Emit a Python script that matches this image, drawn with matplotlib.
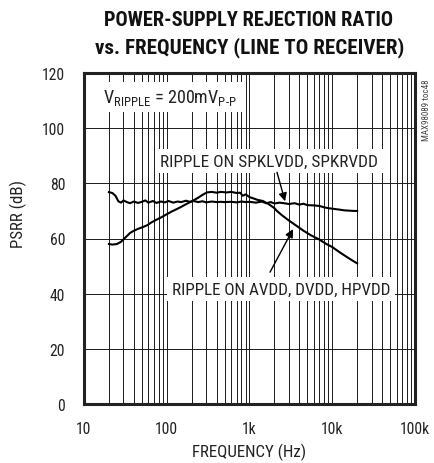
"""PSRR vs. frequency, line input to receiver output."""

import matplotlib
matplotlib.use("Agg")
import matplotlib.pyplot as plt
from matplotlib import font_manager as fm
from matplotlib.ticker import FixedLocator, LogLocator, NullFormatter

# ripple on SPKLVDD / SPKRVDD
spk_freq = [20, 22, 24, 26, 28, 30, 33, 36, 40, 45, 50, 55, 60, 68, 75, 85,
            95, 105, 120, 135, 150, 170, 190, 210, 240, 270, 300, 350, 400,
            450, 500, 600, 700, 800, 900, 1000, 1200, 1400, 1600, 1800, 2000,
            2300, 2600, 3000, 3500, 4000, 4500, 5000, 6000, 7000, 8000, 9000,
            10000, 12000, 14000, 16000, 18000, 20000]
spk_db = [76.8, 76.5, 75.5, 73.5, 73.0, 73.8, 73.2, 72.8, 73.4, 72.9, 73.3,
          73.8, 73.0, 73.6, 72.9, 73.4, 73.1, 73.6, 73.0, 73.4, 73.2, 73.7,
          73.3, 73.6, 73.2, 73.5, 73.1, 73.4, 73.2, 73.3, 73.2, 73.3, 73.1,
          73.4, 73.2, 73.3, 73.0, 73.4, 72.8, 73.2, 72.7, 73.0, 72.8, 72.5,
          72.8, 72.3, 72.6, 72.1, 72.0, 71.8, 71.3, 71.0, 70.8, 70.5, 70.2,
          70.1, 70.0, 70.0]

# ripple on AVDD / DVDD / HPVDD
av_freq = [20, 22, 25, 28, 32, 36, 40, 45, 50, 58, 65, 75, 85, 100, 115, 133,
           150, 175, 207, 240, 270, 305, 350, 400, 450, 530, 600, 700, 770,
           830, 900, 1000, 1100, 1250, 1450, 1700, 2000, 2140, 2500, 3000,
           3700, 4500, 5500, 7000, 8500, 10000, 12300, 15000, 18000, 20000]
av_db = [58.0, 57.8, 58.0, 58.8, 60.5, 62.0, 62.8, 63.5, 64.0, 64.8, 65.8,
         66.8, 67.6, 68.8, 69.8, 70.7, 71.5, 72.6, 73.7, 74.8, 75.8, 76.7,
         76.9, 76.6, 76.9, 76.7, 76.9, 76.5, 76.6, 75.5, 76.0, 75.0, 74.6,
         74.0, 73.6, 72.5, 71.0, 70.0, 68.3, 66.5, 64.6, 62.8, 61.2, 59.6,
         58.0, 56.9, 55.0, 53.3, 51.8, 51.0]

x_ticks = [10, 100, 1000, 10000, 100000]
x_labels = ["10", "100", "1k", "10k", "100k"]
y_ticks = [0, 20, 40, 60, 80, 100, 120]


# ---------------------------------------------------------------------------
# Fonts: prefer a narrow grotesque, fall back to plain Liberation Sans
# ---------------------------------------------------------------------------

def _weight(w):
    return w if isinstance(w, int) else fm.weight_dict.get(w, 400)


_FACES = {}
for f in fm.fontManager.ttflist:
    _FACES.setdefault(f.name, set()).add(_weight(f.weight))


def _pick(candidates):
    for fam, wt in candidates:
        faces = _FACES.get(fam, set())
        if any(w >= wt - 100 for w in faces):
            return fam, wt
    return "DejaVu Sans", candidates[-1][1]


BODY, _ = _pick([("Liberation Sans Narrow", 400), ("Roboto Condensed", 400),
                 ("Archivo Narrow", 400), ("PT Sans Narrow", 400),
                 ("Liberation Sans", 400)])
HEAD, HEAD_WT = _pick([("Roboto Condensed", 700), ("Liberation Sans Narrow", 700),
                       ("Archivo Narrow", 700), ("PT Sans Narrow", 700),
                       ("Fjalla One", 400), ("Liberation Sans", 700)])

plt.rcParams.update({
    "font.family": [BODY, "DejaVu Sans"],
    "mathtext.fontset": "custom",
    "mathtext.rm": BODY,
})

W, H = 435, 464
INK = "#222222"

fig = plt.figure(figsize=(W / 100, H / 100), dpi=100)
ax = fig.add_axes([84 / W, 1 - 405 / H, 331 / W, 331 / H])
renderer = fig.canvas.get_renderer()


def fit(text, size_px, vertical=False):
    """Rescale a text so its extent spans ``size_px`` pixels."""
    bb = text.get_window_extent(renderer)
    cur = bb.height if vertical else bb.width
    text.set_fontsize(text.get_fontsize() * size_px / cur)
    return text


def fx(px):
    return px / W


def fy(py):
    return 1 - py / H


ax.set_xscale("log")
ax.set_xlim(10, 100000)
ax.set_ylim(0, 120)
ax.xaxis.set_major_locator(FixedLocator(x_ticks))
ax.xaxis.set_minor_locator(LogLocator(base=10, subs=range(2, 10)))
ax.xaxis.set_minor_formatter(NullFormatter())
ax.set_xticks(x_ticks)
ax.set_xticklabels(x_labels)
ax.set_yticks(y_ticks)

# size the tick labels from the widest one
probe = fig.text(0, 0, "100k", fontsize=12)
tick_size = fit(probe, 30).get_fontsize()
probe.remove()
ax.tick_params(which="both", length=0, labelsize=tick_size, labelcolor=INK)
ax.tick_params(axis="x", pad=12.2)
ax.tick_params(axis="y", pad=13.5)

ax.grid(True, which="both", axis="x", color="#1a1a1a", linewidth=0.7)
ax.grid(True, which="major", axis="y", color="#1a1a1a", linewidth=0.7)
ax.set_axisbelow(True)
for sp in ax.spines.values():
    sp.set_linewidth(2.2)
    sp.set_color(INK)

ax.plot(spk_freq, spk_db, color="black", linewidth=1.5, zorder=4)
ax.plot(av_freq, av_db, color="black", linewidth=1.5, zorder=4)

box = dict(facecolor="white", edgecolor="none", pad=3)
t = ax.text(17, 111.2,
            r"V$_{\mathregular{RIPPLE}}$ = 200mV$_{\mathregular{P\text{-}P}}$",
            fontsize=11, va="center", ha="left", bbox=box, zorder=3, color=INK)
fit(t, 134)
t = ax.text(83, 88, "RIPPLE ON SPKLVDD, SPKRVDD", fontsize=11,
            va="center", ha="left", bbox=box, zorder=3, color=INK)
fit(t, 215)
t = ax.text(116, 41.7, "RIPPLE ON AVDD, DVDD, HPVDD", fontsize=11,
            va="center", ha="left", bbox=box, zorder=3, color=INK)
fit(t, 218)

arrow = dict(arrowstyle="-|>", color="black", linewidth=1.0,
             mutation_scale=12, shrinkA=0, shrinkB=0)
ax.annotate("", xy=(2690, 73.5), xytext=(2150, 84), arrowprops=arrow, zorder=5)
ax.annotate("", xy=(3360, 63.4), xytext=(1770, 47.8), arrowprops=arrow, zorder=5)

# axis titles share one size, taken from the frequency label's width
ax.set_xlabel("FREQUENCY (Hz)", fontsize=11, color=INK, va="center")
ax.xaxis.set_label_coords(0.5, (405 - 452) / 331)
label_size = fit(ax.xaxis.label, 114).get_fontsize()
ax.set_ylabel("PSRR (dB)", fontsize=label_size, color=INK, va="center")
ax.yaxis.set_label_coords((18 - 84) / 331, (405 - 214) / 331)

title_kw = dict(ha="center", va="center", fontsize=14, family=HEAD,
                fontweight=HEAD_WT, color="#111111")
fit(fig.text(fx(249), fy(20.5), "POWER-SUPPLY REJECTION RATIO", **title_kw), 292)
fit(fig.text(fx(250), fy(47.5), "vs. FREQUENCY (LINE TO RECEIVER)", **title_kw), 310)

fig.text(fx(427), fy(110), "MAX98089 toc48", rotation=90, ha="center",
         va="center", fontsize=6.5, color="#444444")

fig.savefig("out.png", dpi=100)
